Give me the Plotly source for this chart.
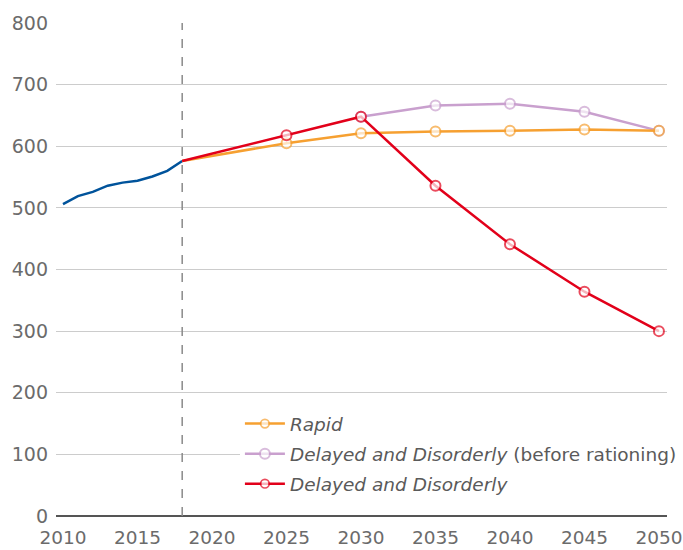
import plotly.graph_objects as go

# Historical series
hist_years = [2010, 2011, 2012, 2013, 2014, 2015, 2016, 2017, 2018]
hist_values = [506, 519, 526, 536, 541, 544, 551, 560, 576]

# Scenario projections
proj_years = [2018, 2025, 2030, 2035, 2040, 2045, 2050]
rapid = [576, 605, 621, 624, 625, 627, 625]
dd_years = [2030, 2035, 2040, 2045, 2050]
dd_before = [648, 666, 669, 656, 625]
dd = [576, 618, 648, 536, 441, 364, 300]

x_ticks = [2010, 2015, 2020, 2025, 2030, 2035, 2040, 2045, 2050]
y_ticks = [0, 100, 200, 300, 400, 500, 600, 700, 800]

ORANGE = "#F6A031"
PURPLE = "#C9A0CE"
RED = "#E2001A"
BLUE = "#00539B"


def marker_style(color, n, skip_first):
    sizes = [10] * n
    widths = [2] * n
    if skip_first:
        sizes[0] = 0
        widths[0] = 0
    return dict(symbol="circle", size=sizes, color="white",
                line=dict(color=color, width=widths))


fig = go.Figure()

fig.add_trace(go.Scatter(
    x=hist_years, y=hist_values, mode="lines",
    line=dict(color=BLUE, width=2.5), showlegend=False, hoverinfo="skip"))

fig.add_trace(go.Scatter(
    x=dd_years, y=dd_before, mode="lines+markers",
    name="<i>Delayed and Disorderly</i> (before rationing)",
    line=dict(color=PURPLE, width=2.5),
    marker=marker_style(PURPLE, len(dd_years), False),
    legendgroup="b", legendrank=2))

fig.add_trace(go.Scatter(
    x=proj_years, y=rapid, mode="lines+markers", name="<i>Rapid</i>",
    line=dict(color=ORANGE, width=2.5),
    marker=marker_style(ORANGE, len(proj_years), True),
    legendgroup="a", legendrank=1))

fig.add_trace(go.Scatter(
    x=proj_years, y=dd, mode="lines+markers", name="<i>Delayed and Disorderly</i>",
    line=dict(color=RED, width=2.5),
    marker=marker_style(RED, len(proj_years), True),
    legendgroup="c", legendrank=3))

fig.add_shape(type="line", x0=2018, x1=2018, y0=0, y1=1, yref="paper",
              line=dict(color="#8a8a8a", width=1.5, dash="dash"))

font_family = "'DejaVu Sans', sans-serif"

fig.update_layout(
    width=683, height=550,
    margin=dict(l=56, r=16, t=23, b=34, autoexpand=False),
    plot_bgcolor="white", paper_bgcolor="white",
    font=dict(family=font_family, color="#6b6b6b", size=18),
    legend=dict(x=0.301, y=0.225, xanchor="left", yanchor="top",
                bgcolor="white", font=dict(size=18.5, color="#5a5a5a"),
                tracegroupgap=3, itemwidth=40, traceorder="grouped"),
    xaxis=dict(range=[2009.53, 2050.54], tickvals=x_ticks, showgrid=False,
               zeroline=False, showline=False, ticks="", ticklabelstandoff=8,
               ticklabeloverflow="allow", automargin=False,
               tickfont=dict(size=18.5, color="#6b6b6b")),
    yaxis=dict(range=[0, 800], tickvals=y_ticks, showgrid=True, gridcolor="#cccccc",
               gridwidth=1, zeroline=True, zerolinecolor="#555555", zerolinewidth=2,
               showline=False, ticks="", ticklabelstandoff=7, automargin=False,
               tickfont=dict(size=19, color="#6b6b6b")),
)

fig.write_html("out.html")
